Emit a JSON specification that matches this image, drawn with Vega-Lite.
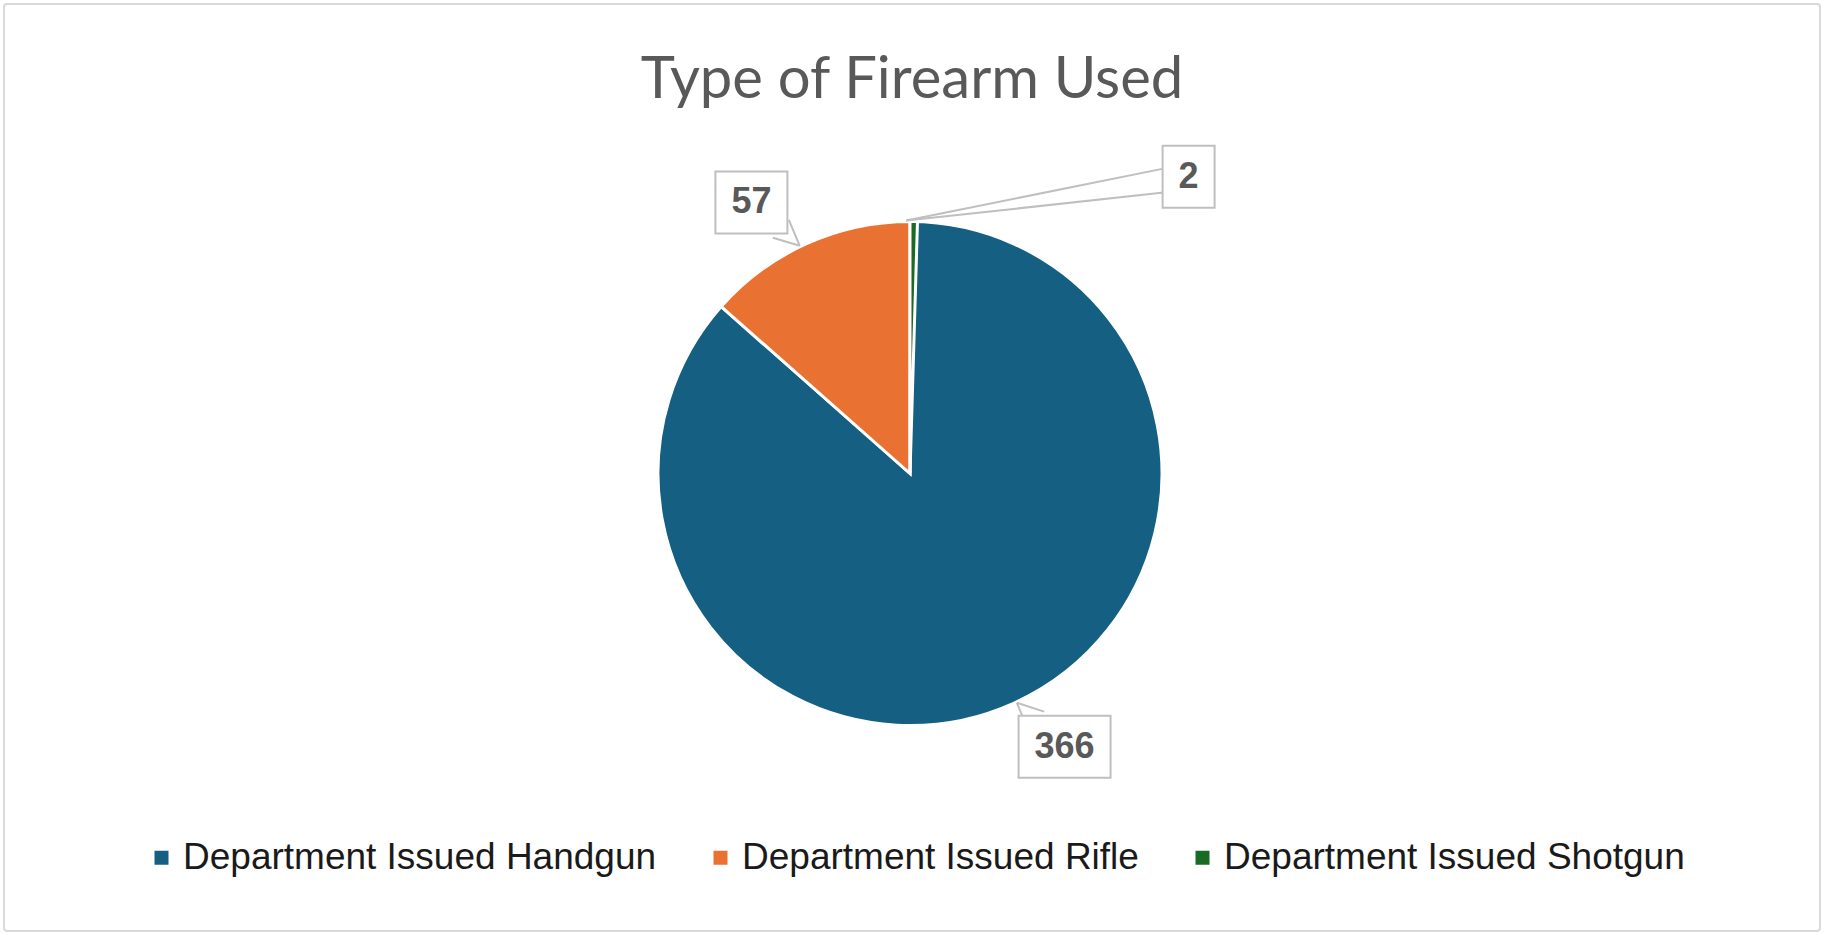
{
  "$schema": "https://vega.github.io/schema/vega-lite/v6.json",
  "width": 1816,
  "height": 927,
  "autosize": {"type": "none"},
  "padding": 4,
  "background": "white",
  "title": {
    "text": "Type of Firearm Used",
    "anchor": "middle",
    "frame": "group",
    "offset": -106,
    "font": "Lato",
    "fontSize": 58,
    "fontWeight": "normal",
    "color": "#595959"
  },
  "data": {
    "values": [
      {"type": "Department Issued Handgun", "count": 366},
      {"type": "Department Issued Rifle", "count": 57},
      {"type": "Department Issued Shotgun", "count": 2}
    ]
  },
  "transform": [
    {"window": [{"op": "sum", "field": "count", "as": "cum"}], "sort": [{"field": "type"}], "frame": [null, 0]},
    {"joinaggregate": [{"op": "sum", "field": "count", "as": "total"}]},
    {"calculate": "datum.cum - datum.count", "as": "start"},
    {"calculate": "2 * PI * (datum.cum - datum.count / 2) / datum.total", "as": "mid"},
    {"calculate": "datum.count / datum.total < 0.02 ? 43.2 * PI / 180 : datum.mid - 4.5 * PI / 180", "as": "la"},
    {"calculate": "datum.count / datum.total < 0.02 ? 407 : 314", "as": "lr"},
    {"calculate": "datum.lr * sin(datum.la)", "as": "cx"},
    {"calculate": "datum.lr * cos(datum.la)", "as": "cy"},
    {"calculate": "253 * sin(datum.mid)", "as": "tx"},
    {"calculate": "253 * cos(datum.mid)", "as": "ty"},
    {"calculate": "16 + 10 * length(toString(datum.count))", "as": "hw"},
    {"calculate": "datum.cx - datum.hw", "as": "bx1"},
    {"calculate": "datum.cx + datum.hw", "as": "bx2"},
    {"calculate": "datum.cy - 31", "as": "by1"},
    {"calculate": "datum.cy + 31", "as": "by2"},
    {"calculate": "datum.tx - datum.cx", "as": "dx"},
    {"calculate": "datum.ty - datum.cy", "as": "dy"},
    {"calculate": "sqrt(datum.dx * datum.dx + datum.dy * datum.dy)", "as": "len"},
    {"calculate": "0.85 * min(datum.hw / max(abs(datum.dx), 0.001), 31 / max(abs(datum.dy), 0.001))", "as": "t"},
    {"calculate": "datum.cx + datum.t * datum.dx - 12 * datum.dy / datum.len", "as": "p1x"},
    {"calculate": "datum.cy + datum.t * datum.dy + 12 * datum.dx / datum.len", "as": "p1y"},
    {"calculate": "datum.cx + datum.t * datum.dx + 12 * datum.dy / datum.len", "as": "p2x"},
    {"calculate": "datum.cy + datum.t * datum.dy - 12 * datum.dx / datum.len", "as": "p2y"}
  ],
  "layer": [
    {
      "mark": {"type": "arc", "outerRadius": 252, "stroke": "white", "strokeWidth": 3},
      "encoding": {
        "x": {"datum": 0, "type": "quantitative", "scale": {"domain": [-906, 910], "nice": false, "zero": false}, "axis": null},
        "y": {"datum": 0, "type": "quantitative", "scale": {"domain": [-457.5, 469.5], "nice": false, "zero": false}, "axis": null},
        "theta": {"field": "start", "type": "quantitative", "scale": {"zero": true, "nice": false}},
        "theta2": {"field": "cum"},
        "color": {
          "field": "type",
          "type": "nominal",
          "scale": {
            "domain": ["Department Issued Handgun", "Department Issued Rifle", "Department Issued Shotgun"],
            "range": ["#156082", "#E97132", "#196B24"]
          },
          "legend": {"title": null}
        }
      }
    },
    {
      "mark": {"type": "rule", "color": "#bfbfbf", "strokeWidth": 2},
      "encoding": {
        "x": {"field": "p1x", "type": "quantitative", "axis": null},
        "y": {"field": "p1y", "type": "quantitative", "axis": null},
        "x2": {"field": "tx"},
        "y2": {"field": "ty"}
      }
    },
    {
      "mark": {"type": "rule", "color": "#bfbfbf", "strokeWidth": 2},
      "encoding": {
        "x": {"field": "p2x", "type": "quantitative", "axis": null},
        "y": {"field": "p2y", "type": "quantitative", "axis": null},
        "x2": {"field": "tx"},
        "y2": {"field": "ty"}
      }
    },
    {
      "mark": {"type": "rect", "fill": "white", "stroke": "#bfbfbf", "strokeWidth": 2},
      "encoding": {
        "x": {"field": "bx1", "type": "quantitative", "axis": null},
        "x2": {"field": "bx2"},
        "y": {"field": "by1", "type": "quantitative", "axis": null},
        "y2": {"field": "by2"}
      }
    },
    {
      "mark": {"type": "text", "align": "center", "baseline": "middle", "font": "Liberation Sans", "fontSize": 36, "fontWeight": "bold", "color": "#595959"},
      "encoding": {
        "x": {"field": "cx", "type": "quantitative", "axis": null},
        "y": {"field": "cy", "type": "quantitative", "axis": null},
        "text": {"field": "count", "type": "quantitative"}
      }
    }
  ],
  "config": {
    "view": {"stroke": "#d9d9d9", "strokeWidth": 2, "cornerRadius": 3},
    "legend": {
      "orient": "none",
      "legendX": 139,
      "legendY": 835,
      "direction": "horizontal",
      "symbolType": "square",
      "symbolSize": 196,
      "symbolStrokeWidth": 0,
      "labelFont": "Liberation Sans",
      "labelFontSize": 37,
      "labelColor": "#1a1a1a",
      "labelOffset": 3,
      "columnPadding": 45,
      "labelLimit": 0
    }
  }
}
